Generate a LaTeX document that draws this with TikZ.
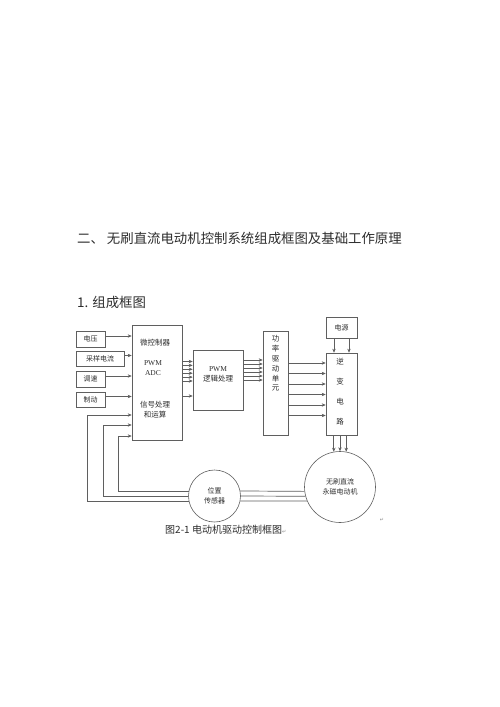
\documentclass[tikz,border=0pt]{standalone}
\usepackage{fontspec}
\setmainfont{Liberation Serif}
\newfontfamily\cjk{Noto Sans CJK SC}
\newfontfamily\symfont{DejaVu Sans}
\usetikzlibrary{arrows.meta}
\definecolor{wire}{RGB}{95,95,95}
\definecolor{ink}{RGB}{45,45,45}

\begin{document}
\begin{tikzpicture}[
      x=1pt, y=-1pt,
      box/.style={rectangle, draw=wire, line width=0.6pt, inner sep=0pt,
                  font=\cjk\fontsize{7}{8}\selectfont, text=ink},
      disc/.style={circle, draw=wire, line width=0.6pt, fill=white, inner sep=0pt,
                   align=center, font=\cjk\fontsize{7}{9.5}\selectfont, text=ink},
      lbl/.style={inner sep=0pt, align=center, font=\cjk\fontsize{7.5}{10}\selectfont, text=ink},
      head/.style={inner sep=0pt, anchor=west, font=\cjk\fontsize{13.4}{15}\selectfont, text=ink},
      pmark/.style={inner sep=0pt, font=\symfont\fontsize{5}{6}\selectfont, text=black!45},
      arr/.style={-{Stealth[length=4pt,width=3.4pt]}, draw=wire, line width=0.6pt},
      link/.style={draw=wire, line width=0.7pt}
    ]
    \useasboundingbox[fill=white] (0,0) rectangle (500,707);

    % headings
    \node[head] (sec) at (77,238) {二、\hspace{3pt}无刷直流电动机控制系统组成框图及基础工作原理};
    \node[head] (sub) at (77,302) {1. 组成框图};

    % input boxes
    \node[box, minimum width=29pt, minimum height=16pt] (volt) at (90.5,339) {电压};
    \node[box, minimum width=48pt, minimum height=15pt] (samp) at (100,358.5) {采样电流};
    \node[box, minimum width=29pt, minimum height=16pt] (spd) at (90.5,379) {调速};
    \node[box, minimum width=29pt, minimum height=15pt] (brk) at (90.5,399.5) {制动};

    % main blocks
    \node[box, minimum width=50pt, minimum height=115pt] (mcu) at (157,382.5) {};
    \node[lbl] (mcua) at (155,343) {微控制器};
    \node[lbl, font=\rmfamily\fontsize{7.5}{10}\selectfont] (mcub) at (153,368) {PWM\\ADC};
    \node[lbl] (mcuc) at (155,410) {信号处理\\和运算};

    \node[box, minimum width=50pt, minimum height=60pt] (pwm) at (218,380) {};
    \node[lbl] (pwmt) at (218,374) {{\rmfamily PWM}\\逻辑处理};

    \node[box, minimum width=25pt, minimum height=104pt] (drv) at (275.5,383) {};
    \node[lbl, font=\cjk\fontsize{7.5}{9.8}\selectfont] (drvt) at (275.5,363.5) {功\\率\\驱\\动\\单\\元};

    \node[box, minimum width=31pt, minimum height=21pt] (pwr) at (341.5,327.5) {电源};
    \node[box, minimum width=31pt, minimum height=82pt] (inv) at (341.5,394) {};
    \node[lbl, font=\cjk\fontsize{7.5}{20}\selectfont] (invt) at (340,392) {逆\\变\\电\\路};

    % machines
    \node[disc, minimum size=71pt] (mot) at (340,487) {无刷直流\\永磁电动机};
    \node[disc, minimum size=52pt] (sens) at (214.5,496) {位置\\传感器};

    % signals
    \foreach \b in {volt, samp, spd, brk}
      \draw[arr] ([yshift=3pt]\b.east) -- ([yshift=3pt]\b.east -| mcu.west);
    \foreach \y in {361.5,365.4,369.3,373.2,377.1,381,396}
      \draw[arr] (mcu.east |- 0,\y) -- (pwm.west |- 0,\y);
    \foreach \y in {360,364,368,372,376,380}
      \draw[arr] (pwm.east |- 0,\y) -- (drv.west |- 0,\y);
    \foreach \y in {363,373.5,384,394.5,405,415.5}
      \draw[arr] (drv.east |- 0,\y) -- (inv.west |- 0,\y);
    \foreach \x in {334,349}
      \draw[arr] (pwr.south -| \x,0) -- (inv.north -| \x,0);
    \foreach \a in {100,90,80}
      \draw[arr] (inv.south -| mot.\a) -- (mot.\a);

    % feedback
    \foreach \a/\b in {187/11, 195/0, 203/349}
      \draw[link] (mot.\a) -- (sens.\b);
    \foreach \a/\x/\y in {169/118/436, 180/103/425, 191/87/415}
      \draw[arr] (sens.\a) -| (\x,\y) -- (mcu.west |- 0,\y);

    % caption
    \node[inner sep=0pt, anchor=west, font=\cjk\fontsize{10}{12}\selectfont, text=ink] (cap)
      at (165,530) {图2-1 电动机驱动控制框图{\symfont\color{black!45}\fontsize{5}{6}\selectfont ↵}};
    \node[pmark] (pm) at (382,520) {↵};
  \end{tikzpicture}
\end{document}
